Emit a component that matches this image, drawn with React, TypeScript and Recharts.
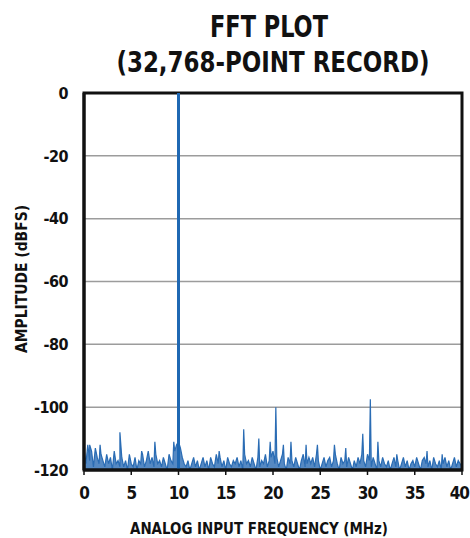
import React from "react";
import {
  Area,
  CartesianGrid,
  ComposedChart,
  Line,
  ReferenceArea,
  XAxis,
  YAxis,
} from "recharts";

// noise floor, one value every 0.2 MHz from 0 to 40 MHz
const FLOOR_STEP = 0.2;
const noiseFloor = [
  -113, -118, -112, -117, -114, -119, -113, -116, -118, -115,
  -117, -119, -115, -118, -116, -120, -114, -118, -117, -119,
  -116, -119, -117, -120, -115, -118, -119, -116, -120, -117,
  -118, -115, -119, -117, -114, -118, -116, -119, -115, -118,
  -117, -119, -116, -118, -120, -115, -117, -118, -114, -112,
  -111, -113, -116, -118, -119, -117, -120, -118, -116, -119,
  -117, -120, -118, -116, -119, -117, -120, -116, -118, -119,
  -115, -118, -116, -119, -117, -120, -116, -118, -119, -117,
  -118, -116, -119, -117, -120, -115, -118, -117, -119, -116,
  -118, -120, -116, -119, -117, -118, -115, -119, -117, -116,
  -114, -118, -116, -119, -117, -115, -118, -120, -116, -118,
  -117, -119, -116, -118, -120, -117, -115, -119, -118, -116,
  -118, -116, -119, -115, -117, -120, -118, -116, -119, -117,
  -116, -119, -117, -115, -118, -120, -116, -118, -117, -119,
  -116, -118, -120, -117, -119, -116, -118, -115, -117, -119,
  -115, -117, -119, -116, -118, -120, -117, -119, -116, -118,
  -119, -117, -120, -118, -116, -119, -117, -120, -118, -116,
  -119, -117, -120, -118, -117, -119, -116, -118, -120, -117,
  -116, -118, -119, -117, -120, -116, -118, -119, -117, -120,
  -118, -116, -119, -117, -120, -118, -116, -119, -117, -118,
  -119,
];

// spurs: [frequency MHz, amplitude dBFS]
const spurs: [number, number][] = [
  [0.6, -112], [1.7, -112], [3.8, -108], [6.1, -114], [7.5, -111],
  [9.5, -111], [14.3, -114], [16.9, -107], [18.5, -110], [19.7, -111],
  [20.3, -100], [21.1, -112], [21.9, -111], [23.5, -112], [24.7, -112],
  [26.5, -112], [27.7, -113], [29.5, -108.5], [30.3, -97.5], [31.1, -111],
  [33.1, -115], [36.3, -114], [37.9, -115],
];

// fundamental tone at 10 MHz
const fundamental = [
  { f: 10, v: -120 },
  { f: 10, v: 0 },
];

const xTicks = [0, 5, 10, 15, 20, 25, 30, 35, 40];
const yTicks = [0, -20, -40, -60, -80, -100, -120];

const spectrum = [
  ...noiseFloor.map((v, i) => ({ f: +(i * FLOOR_STEP).toFixed(2), v })),
  ...spurs.map(([f, v]) => ({ f, v })),
].sort((a, b) => a.f - b.f);

const FONT = "'Liberation Sans Narrow', 'DejaVu Sans Condensed', 'Liberation Sans', sans-serif";
const BLUE = "#2a6cb4";

// last label sits flush against the right edge, like the original
function FreqTick(props: any) {
  const { x, y, payload } = props;
  const last = payload.value === xTicks[xTicks.length - 1];
  return (
    <text
      x={last ? x + 7 : x}
      y={y}
      dy="0.71em"
      textAnchor={last ? "end" : "middle"}
      fill="#111"
      fontSize={17}
      fontWeight={700}
      fontFamily={FONT}
      letterSpacing={-1}
    >
      {payload.value}
    </text>
  );
}

export default function App() {
  return (
    <div
      style={{
        position: "absolute",
        left: 0,
        top: 0,
        width: 470,
        height: 538,
        background: "#fff",
      }}
    >
      <ComposedChart
        width={470}
        height={538}
        margin={{ top: 93, right: 8, bottom: 0, left: 0 }}
      >
        <CartesianGrid
          horizontal
          vertical={false}
          stroke="#9c9c9c"
          strokeWidth={1.5}
          horizontalValues={yTicks}
        />
        <XAxis
          type="number"
          dataKey="f"
          domain={[0, 40]}
          ticks={xTicks}
          allowDataOverflow
          height={68}
          axisLine={{ stroke: "#111", strokeWidth: 3 }}
          tickLine={{ stroke: "#111", strokeWidth: 1.5 }}
          tickSize={5}
          tickMargin={12}
          tick={<FreqTick />}
        />
        <YAxis
          type="number"
          domain={[-120, 0]}
          ticks={yTicks}
          allowDataOverflow
          width={84}
          axisLine={{ stroke: "#111", strokeWidth: 3 }}
          tickLine={false}
          tickSize={0}
          tickMargin={16}
          tick={{
            fill: "#111",
            fontSize: 16,
            fontWeight: 700,
            fontFamily: FONT,
            letterSpacing: -0.5,
          }}
        />
        <Area
          data={spectrum}
          dataKey="v"
          type="linear"
          baseValue={-120}
          stroke={BLUE}
          strokeWidth={1.2}
          fill={BLUE}
          fillOpacity={0.8}
          dot={false}
          isAnimationActive={false}
        />
        <Line
          data={fundamental}
          dataKey="v"
          type="linear"
          stroke="#1f68b3"
          strokeWidth={3}
          dot={false}
          isAnimationActive={false}
        />
        <ReferenceArea
          x1={0}
          x2={40}
          y1={-120}
          y2={0}
          fill="none"
          fillOpacity={0}
          stroke="#111"
          strokeWidth={3}
        />
      </ComposedChart>
      <svg
        width={470}
        height={538}
        style={{ position: "absolute", left: 0, top: 0, pointerEvents: "none" }}
      >
        <g fontFamily={FONT} fontWeight={700} fill="#111">
          <text x={269} y={37} fontSize={30} textAnchor="middle" textLength={118} lengthAdjust="spacingAndGlyphs">
            FFT PLOT
          </text>
          <text x={0} y={0} fontSize={29} textAnchor="middle" transform="translate(273 72) scale(0.88 1)">
            (32,768-POINT RECORD)
          </text>
          <text x={259} y={534} fontSize={16} textAnchor="middle" textLength={258} lengthAdjust="spacingAndGlyphs">
            ANALOG INPUT FREQUENCY (MHz)
          </text>
          <text
            x={0}
            y={0}
            fontSize={15}
            textAnchor="middle"
            textLength={148}
            lengthAdjust="spacingAndGlyphs"
            transform="translate(27 279) rotate(-90)"
          >
            AMPLITUDE (dBFS)
          </text>
        </g>
      </svg>
    </div>
  );
}
